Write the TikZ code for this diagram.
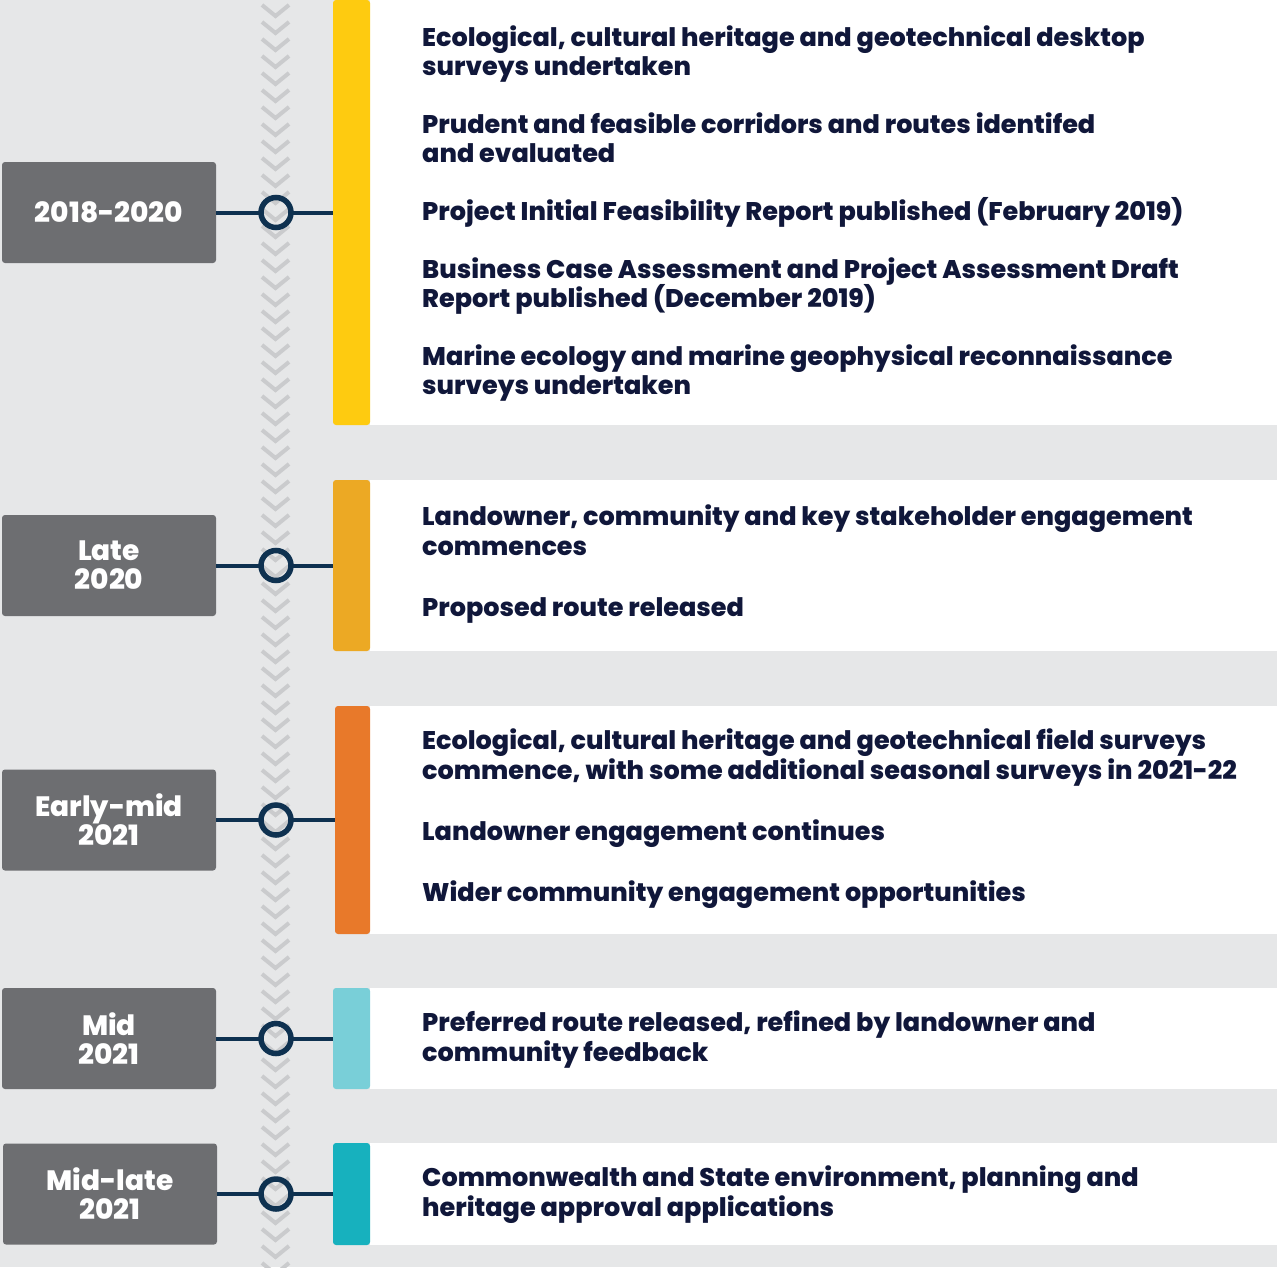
\documentclass[tikz,border=0pt]{standalone}
\usepackage{fontspec}
\setmainfont{Poppins}[BoldFont={Poppins ExtraBold}]
\definecolor{bg}{HTML}{E6E7E8}
\definecolor{chev}{HTML}{CACBCD}
\definecolor{boxgray}{HTML}{6D6E71}
\definecolor{linenavy}{HTML}{0E3150}
\definecolor{textnavy}{HTML}{10173A}
\definecolor{cyel}{HTML}{FECB10}
\definecolor{camber}{HTML}{ECA924}
\definecolor{corange}{HTML}{E8792A}
\definecolor{clteal}{HTML}{79CFD8}
\definecolor{cteal}{HTML}{17B1BE}
\begin{document}
\begin{tikzpicture}[x=1pt,y=-1pt,
  datebox/.style={fill=boxgray, rounded corners=3pt, minimum width=214pt, minimum height=101pt,
    text=white, font=\bfseries\fontsize{28}{29}\selectfont, align=center, inner sep=0pt},
  ring/.style={circle, draw=linenavy, line width=5.5pt, minimum size=30pt, inner sep=0pt, outer sep=0pt},
  barbox/.style={rounded corners=3pt, minimum width=37pt, inner sep=0pt, outer sep=0pt},
  conn/.style={draw=linenavy, line width=4pt},
  item/.style={anchor=base west, text=textnavy, font=\bfseries\fontsize{25.5}{29}\selectfont, inner sep=0pt},
  chevron/.style={draw=chev, line width=4pt}
]
\useasboundingbox (0,0) rectangle (1277,1267);
\fill[bg] (0,0) rectangle (1277,1267);
% chevrons
\foreach \i in {0,...,74}{
  \draw[chevron] (262,{5+17*\i}) -- (275.5,{16+17*\i}) -- (289,{5+17*\i});
}
% white panels
\fill[white] (370,0) rectangle (1277,425);
\fill[white] (370,480) rectangle (1277,651);
\fill[white] (370,706) rectangle (1277,934);
\fill[white] (370,988) rectangle (1277,1089);
\fill[white] (370,1143) rectangle (1277,1245);
% bars
\node[barbox, fill=cyel, minimum height=425pt] (b1) at (351.5,212.5) {};
\node[barbox, fill=camber, minimum height=171pt] (b2) at (351.5,565.5) {};
\node[barbox, fill=corange, minimum width=35pt, minimum height=228pt] (b3) at (352.5,820) {};
\node[barbox, fill=clteal, minimum height=101pt] (b4) at (351.5,1038.5) {};
\node[barbox, fill=cteal, minimum height=102pt] (b5) at (351.5,1194) {};
% date boxes
\node[datebox] (d1) at (109,212.5) {2018-2020};
\node[datebox] (d2) at (109,565.5) {Late\\2020};
\node[datebox] (d3) at (109,820) {Early-mid\\2021};
\node[datebox] (d4) at (109,1038.5) {Mid\\2021};
\node[datebox] (d5) at (110,1194) {Mid-late\\2021};
% rings and connectors
\foreach \k in {1,...,5}{
  \node[ring] (c\k) at (276,0 |- b\k) {};
}
\foreach \k in {1,...,5}{
  \draw[conn] (d\k.east) -- (c\k.west);
  \draw[conn] (c\k.east) -- (b\k.west);
}
% texts panel 1
\node[item] (t1a) at (422,46) {Ecological, cultural heritage and geotechnical desktop};
\node[item] (t1b) at (422,75) {surveys undertaken};
\node[item] (t2a) at (422,133) {Prudent and feasible corridors and routes identifed};
\node[item] (t2b) at (422,162) {and evaluated};
\node[item] (t3a) at (422,220) {Project Initial Feasibility Report published (February 2019)};
\node[item] (t4a) at (422,278) {Business Case Assessment and Project Assessment Draft};
\node[item] (t4b) at (422,307) {Report published (December 2019)};
\node[item] (t5a) at (422,365) {Marine ecology and marine geophysical reconnaissance};
\node[item] (t5b) at (422,394) {surveys undertaken};
% panel 2
\node[item] (t6a) at (422,525) {Landowner, community and key stakeholder engagement};
\node[item] (t6b) at (422,555) {commences};
\node[item] (t7a) at (422,616) {Proposed route released};
% panel 3
\node[item] (t8a) at (422,749) {Ecological, cultural heritage and geotechnical field surveys};
\node[item] (t8b) at (422,779) {commence, with some additional seasonal surveys in 2021-22};
\node[item] (t9a) at (422,840) {Landowner engagement continues};
\node[item] (t10a) at (422,901) {Wider community engagement opportunities};
% panel 4
\node[item] (t11a) at (422,1031) {Preferred route released, refined by landowner and};
\node[item] (t11b) at (422,1061) {community feedback};
% panel 5
\node[item] (t12a) at (422,1186) {Commonwealth and State environment, planning and};
\node[item] (t12b) at (422,1216) {heritage approval applications};
\end{tikzpicture}
\end{document}
